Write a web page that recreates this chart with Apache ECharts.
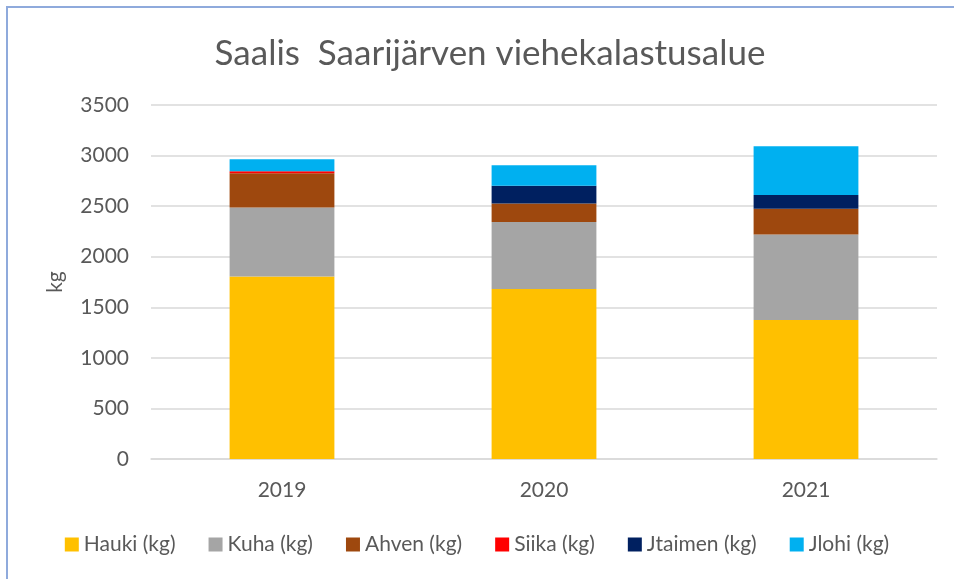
<!DOCTYPE html>
<html>
<head>
<meta charset="utf-8">
<script src="https://cdn.jsdelivr.net/npm/echarts@6/dist/echarts.min.js"></script>
<style>
  html, body { margin: 0; padding: 0; background: #fff; }
  #frame { position: absolute; left: 6px; top: 6px; width: 960px; height: 590px;
           border-left: 2px solid #8faadc; border-top: 2px solid #8faadc; }
  #chart { position: absolute; left: 0; top: 0; width: 954px; height: 579px; }
</style>
</head>
<body>
<div id="frame"></div>
<div id="chart"></div>
<script>
// vuodet
const years = ['2019', '2020', '2021'];
// saalis kg per laji
const hauki = [1805, 1680, 1374];
const kuha = [682, 662, 846];
const ahven = [339, 184, 253];
const siika = [20, 0, 0];
const jtaimen = [0, 175, 136];
const jlohi = [118, 204, 484];

const textColor = '#595959';
const fontFam = 'Lato, "Open Sans", sans-serif';

function bar(name, data, color) {
  return {
    name: name,
    type: 'bar',
    stack: 'saalis',
    barWidth: '40%',
    itemStyle: { color: color },
    data: data
  };
}

const chart = echarts.init(document.getElementById('chart'));
chart.setOption({
  animation: false,
  textStyle: { fontFamily: fontFam, color: textColor },
  title: {
    text: 'Saalis  Saarijärven viehekalastusalue',
    left: 485, top: 31, textAlign: 'center',
    textStyle: { fontSize: 35, fontWeight: 'normal', color: textColor, fontFamily: fontFam }
  },
  grid: { left: 151, right: 17, top: 105, bottom: 120, containLabel: false },
  legend: {
    bottom: 19, left: 'center',
    itemWidth: 14, itemHeight: 14, itemGap: 33,
    icon: 'rect',
    textStyle: { fontSize: 21, color: textColor, fontFamily: fontFam }
  },
  xAxis: {
    type: 'category',
    data: years,
    axisLine: { lineStyle: { color: '#d9d9d9', width: 1.5 } },
    axisTick: { show: false },
    axisLabel: { fontSize: 21, color: textColor, margin: 21 }
  },
  yAxis: {
    type: 'value',
    min: 0, max: 3500, interval: 500,
    name: 'kg',
    nameLocation: 'middle',
    nameGap: 85,
    nameTextStyle: { fontSize: 21, color: textColor },
    axisLabel: { fontSize: 21, color: textColor, margin: 22, formatter: v => String(v) },
    splitLine: { lineStyle: { color: '#d9d9d9', width: 1.5 } }
  },
  series: [
    bar('Hauki (kg)', hauki, '#FFC000'),
    bar('Kuha (kg)', kuha, '#A5A5A5'),
    bar('Ahven (kg)', ahven, '#9E480E'),
    bar('Siika (kg)', siika, '#FF0000'),
    bar('Jtaimen (kg)', jtaimen, '#002060'),
    bar('Jlohi (kg)', jlohi, '#00B0F0')
  ]
});
</script>
</body>
</html>
